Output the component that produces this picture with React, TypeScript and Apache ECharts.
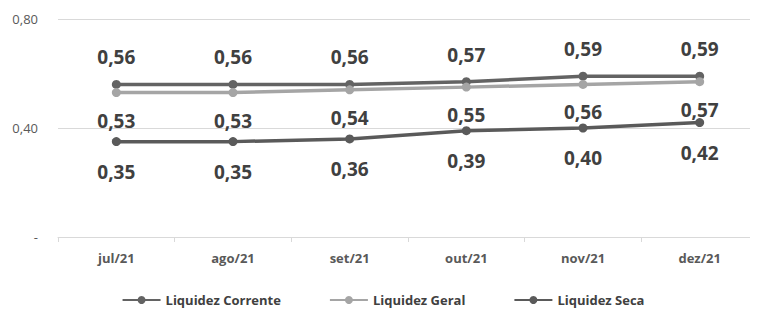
import React, { useEffect, useRef } from "react";
import * as echarts from "echarts";

const categories = ["jul/21", "ago/21", "set/21", "out/21", "nov/21", "dez/21"];
const liquidezCorrente = [0.56, 0.56, 0.56, 0.57, 0.59, 0.59];
const liquidezGeral = [0.53, 0.53, 0.54, 0.55, 0.56, 0.57];
const liquidezSeca = [0.35, 0.35, 0.36, 0.39, 0.4, 0.42];
const yTicks = [0, 0.4, 0.8];

const fmt = (v: number) => v.toFixed(2).replace(".", ",");
const FONT = "'Open Sans', 'Noto Sans', sans-serif";

export default function App() {
  const ref = useRef<HTMLDivElement>(null);
  useEffect(() => {
    if (!ref.current) return;
    const chart = echarts.init(ref.current, undefined, { renderer: "svg" });
    const labelStyle = (pos: string, dist: number) => ({
      show: true,
      position: pos,
      distance: dist,
      formatter: (p: any) => fmt(p.value),
      fontFamily: FONT,
      fontWeight: "bold",
      fontSize: 19,
      color: "#404040",
    });
    const mk = (name: string, data: number[], color: string, pos: string, dist: number) => ({
      name,
      type: "line",
      data,
      symbol: "circle",
      symbolSize: 9,
      lineStyle: { color, width: 3.5 },
      itemStyle: { color },
      label: labelStyle(pos, dist),
    });
    chart.setOption({
      animation: false,
      grid: { left: 50, top: 11, width: 708, height: 218, containLabel: false },
      legend: {
        top: 280,
        left: "center",
        itemWidth: 38,
        itemHeight: 10,
        itemGap: 48,
        textStyle: {
          fontFamily: FONT,
          fontWeight: "bold",
          fontSize: 13,
          lineHeight: 14,
          color: "#404040",
        },
        data: ["Liquidez Corrente", "Liquidez Geral", "Liquidez Seca"],
      },
      xAxis: {
        type: "category",
        data: categories,
        boundaryGap: true,
        axisLine: { lineStyle: { color: "#d9d9d9", width: 1 } },
        axisTick: { show: true, length: 5, lineStyle: { color: "#d9d9d9" } },
        axisLabel: {
          margin: 14,
          fontFamily: FONT,
          fontWeight: "bold",
          fontSize: 13,
          color: "#595959",
        },
      },
      yAxis: {
        type: "value",
        min: yTicks[0],
        max: yTicks[yTicks.length - 1],
        interval: 0.4,
        axisLine: { show: false },
        axisTick: { show: false },
        splitLine: { lineStyle: { color: "#d9d9d9", width: 1 } },
        axisLabel: {
          margin: 20,
          fontFamily: FONT,
          fontSize: 13,
          color: "#595959",
          formatter: (v: number) => (v === 0 ? "-" : fmt(v)),
        },
      },
      series: [
        mk("Liquidez Corrente", liquidezCorrente, "#636363", "top", 13),
        mk("Liquidez Geral", liquidezGeral, "#a5a5a5", "bottom", 14),
        mk("Liquidez Seca", liquidezSeca, "#5a5a5a", "bottom", 16),
      ],
    });
    return () => chart.dispose();
  }, []);
  return <div ref={ref} style={{ width: 750, height: 301 }} />;
}
